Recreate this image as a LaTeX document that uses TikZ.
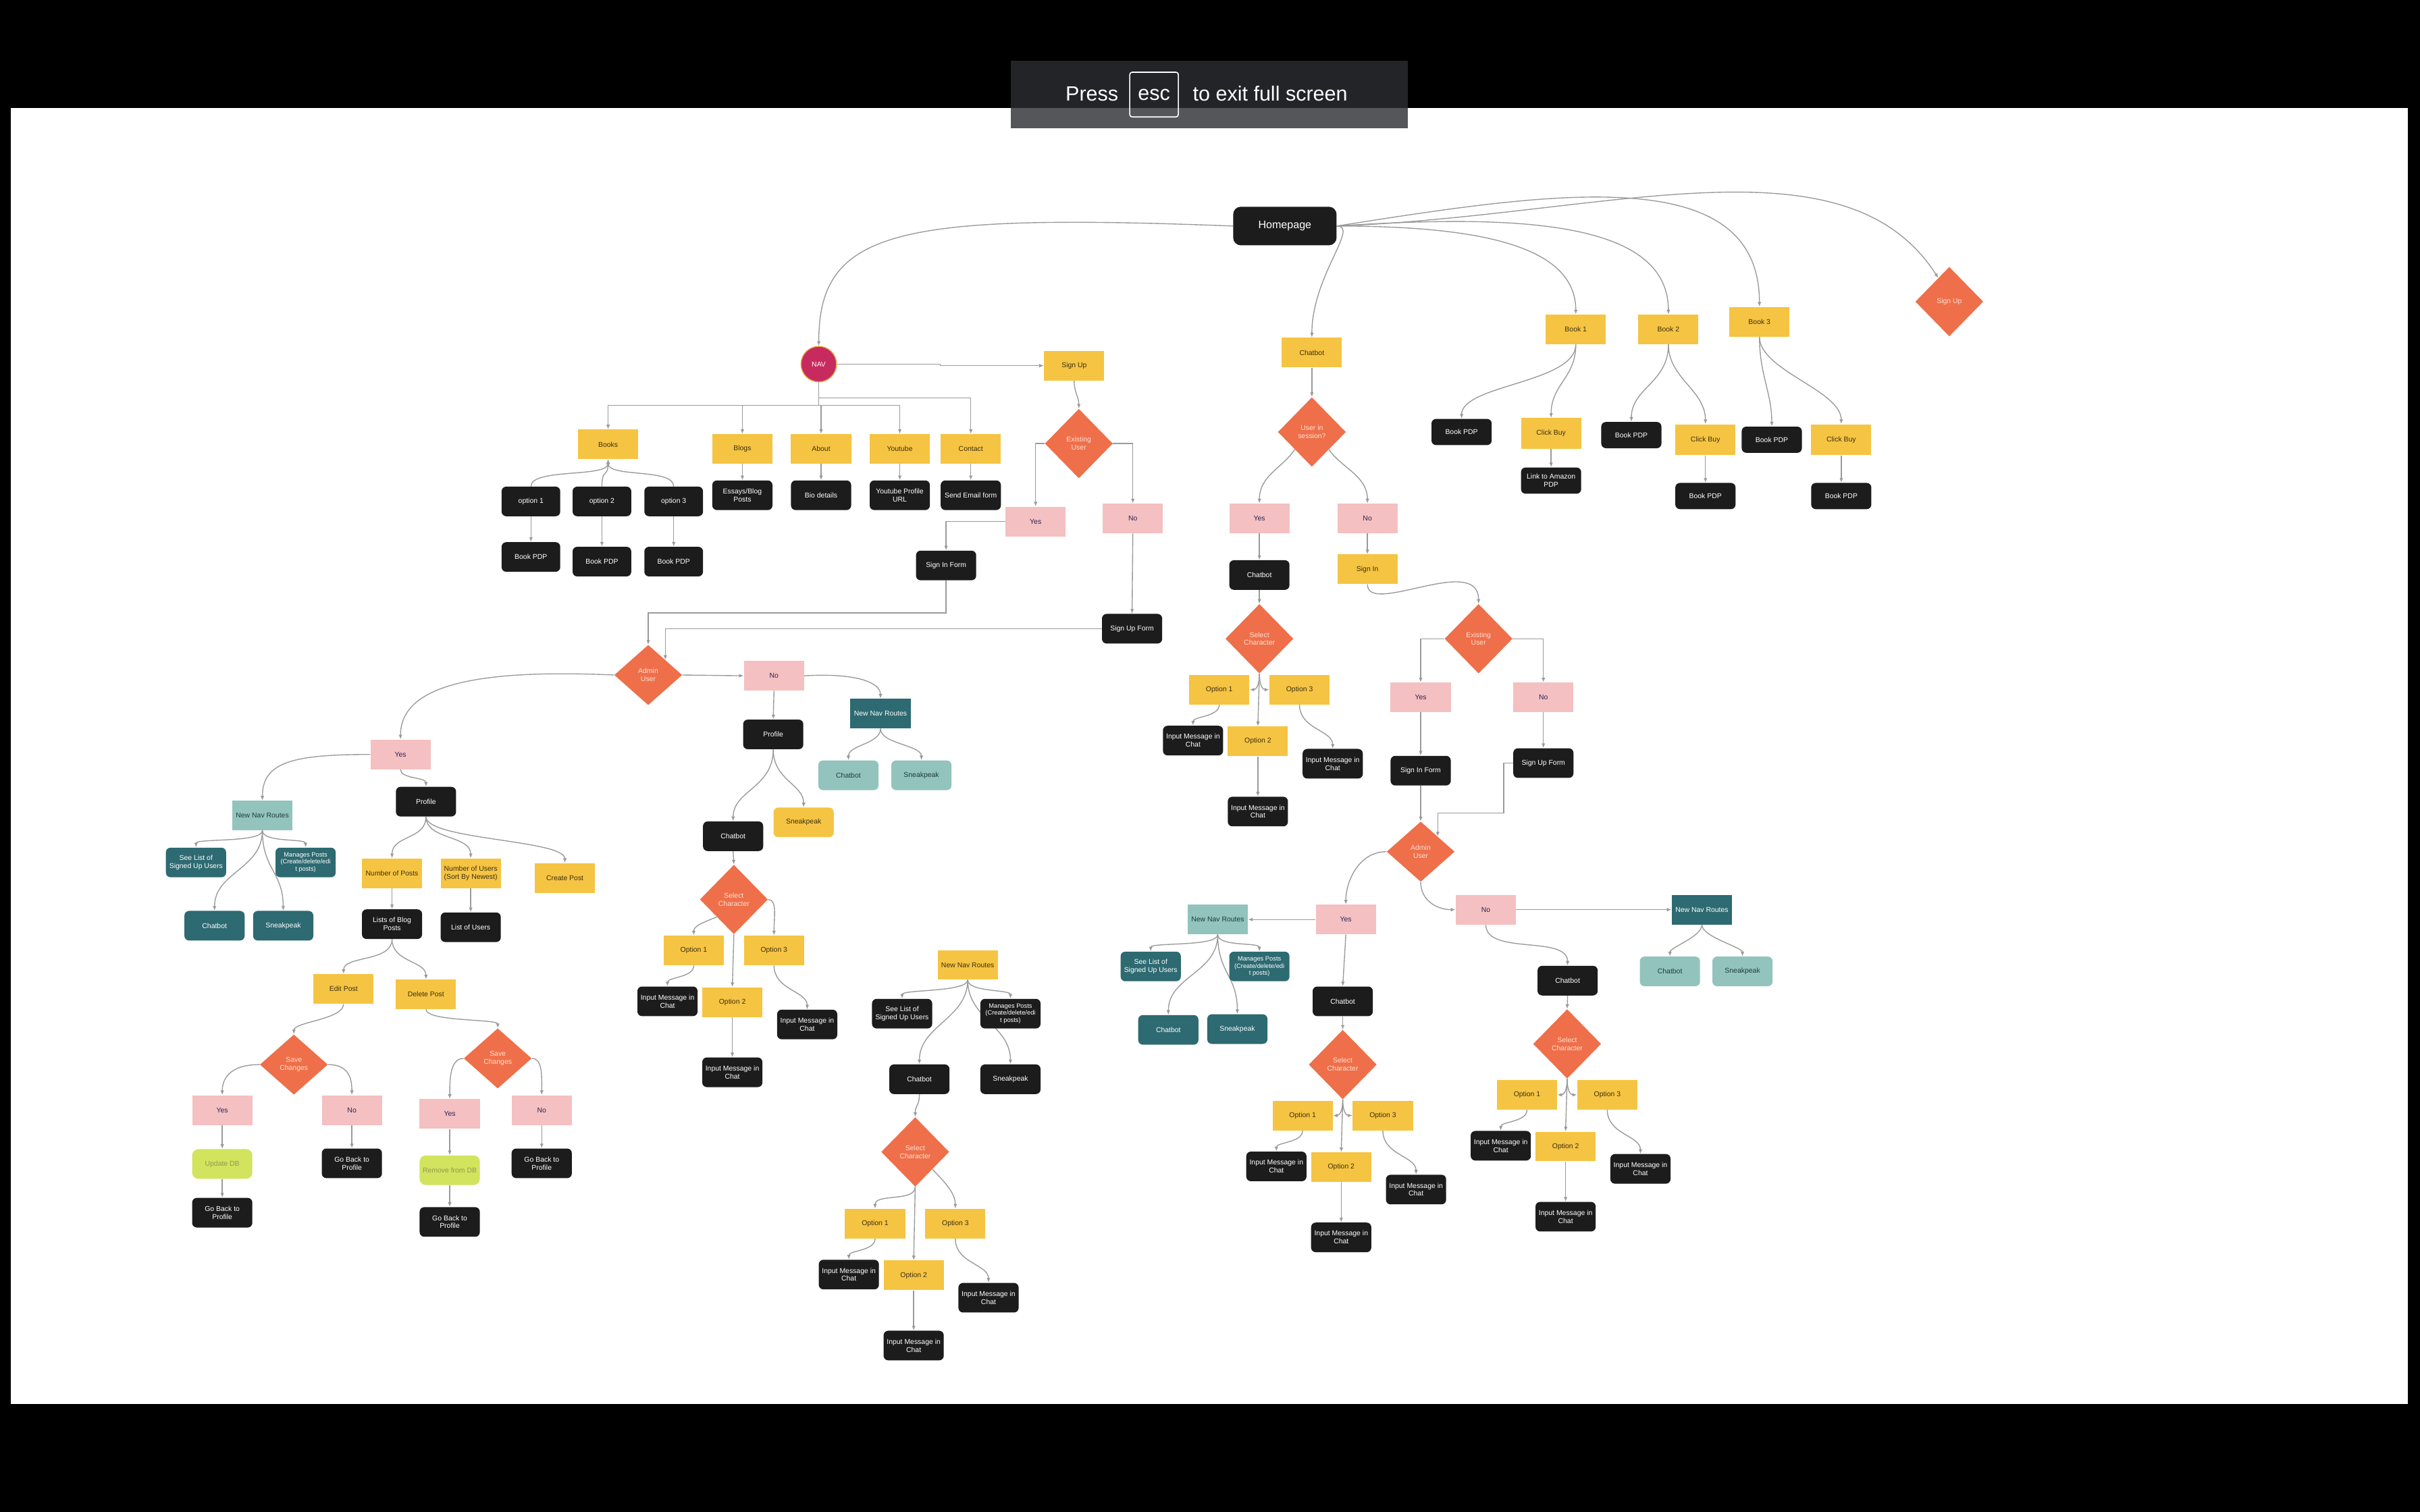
\documentclass[tikz,border=0pt]{standalone}
\usepackage{fontspec}
\setmainfont{Liberation Sans}
\usetikzlibrary{arrows.meta,shapes.geometric}

\definecolor{inkblack}{HTML}{1C1C1C}
\definecolor{sunyellow}{HTML}{F6C443}
\definecolor{sunink}{HTML}{3A3010}
\definecolor{blush}{HTML}{F4C0C1}
\definecolor{blushink}{HTML}{2B2354}
\definecolor{coral}{HTML}{EE6F49}
\definecolor{coralink}{HTML}{FCE2D6}
\definecolor{navpink}{HTML}{C72A5F}
\definecolor{navrim}{HTML}{E9A33F}
\definecolor{deepteal}{HTML}{2D6A71}
\definecolor{mint}{HTML}{92C4BD}
\definecolor{mintink}{HTML}{1E3B3B}
\definecolor{limefill}{HTML}{D2E35E}
\definecolor{limeink}{HTML}{8C9A50}
\definecolor{wire}{HTML}{9A9A9A}
\definecolor{bannertop}{HTML}{232428}
\definecolor{bannerlow}{HTML}{55565A}

\newcommand{\boxfont}{\fontsize{6.5}{7.4}\selectfont}
\newcommand{\tightfont}{\fontsize{5.8}{6.6}\selectfont}

\pgfdeclarelayer{paper}
\pgfdeclarelayer{wires}
\pgfsetlayers{paper,wires,main}

\begin{document}
\begin{tikzpicture}[
  x=0.5mm, y=-0.5mm,
  box/.style={rectangle, minimum width=19.5mm, minimum height=9.6mm, inner sep=1pt, align=center, font=\boxfont},
  darkbox/.style={box, fill=inkblack, text=white, rounded corners=1.5mm},
  yellowbox/.style={box, fill=sunyellow, text=sunink},
  pinkbox/.style={box, fill=blush, text=blushink},
  tealbox/.style={box, fill=deepteal, text=white},
  mintbox/.style={box, fill=mint, text=mintink},
  limebox/.style={box, fill=limefill, text=limeink, rounded corners=2mm},
  soft/.style={rounded corners=1.5mm},
  decision/.style={diamond, fill=coral, text=coralink, minimum width=22mm, minimum height=22.5mm, inner sep=0pt, align=center, font=\boxfont},
  lowdecision/.style={decision, minimum height=19.5mm},
  navdot/.style={circle, fill=navpink, draw=navrim, line width=0.3mm, minimum size=11.5mm, inner sep=0pt, text=white, font=\boxfont},
  banner/.style={text=white, inner sep=0pt, font=\fontsize{19}{22}\selectfont},
  arr/.style={-{Latex[length=1.5mm, width=1.2mm]}, draw=wire, line width=0.3mm}
]
\useasboundingbox (0,0) rectangle (1568,980);

% ---- Screen and full-screen banner ----
\begin{pgfonlayer}{paper}
  \fill[black] (0,0) rectangle (1568,980);
  \fill[white] (7,70) rectangle (1560,910);
  \fill[bannertop] (655,39.5) rectangle (912,70);
  \fill[bannerlow] (655,70) rectangle (912,83);
\end{pgfonlayer}
\node[banner, anchor=base] (press) at (707.5,65.6) {Press};
\node[banner, draw=white, line width=0.35mm, rounded corners=0.8mm, minimum width=15.75mm, minimum height=14.5mm] (esckey) at (747.75,61.3) {esc};
\node[banner, anchor=base] (exitmsg) at (823,65.6) {to exit full screen};

% ---- Homepage and top level ----
\node[darkbox, minimum width=33.5mm, minimum height=12.5mm, rounded corners=2.5mm, font=\fontsize{10}{12}\selectfont] (home) at (832.5,146.5) {Homepage};
\node[navdot] (nav) at (530.5,236) {NAV};
\node[yellowbox] (signup) at (696,237) {Sign Up};
\node[yellowbox] (chat) at (850,228.5) {Chatbot};
\node[yellowbox] (book1) at (1021,213.5) {Book 1};
\node[yellowbox] (book2) at (1081,213.5) {Book 2};
\node[yellowbox] (book3) at (1140,208.5) {Book 3};
\node[decision] (signupd) at (1263,195.5) {Sign Up};

% ---- Books from the homepage ----
\node[darkbox, minimum height=8.5mm] (bookpdf1) at (947,280) {Book PDP};
\node[yellowbox, minimum height=10mm] (buy1) at (1005,281) {Click Buy};
\node[darkbox, minimum height=8.5mm] (bought1) at (1005,311.5) {Link to Amazon\\PDP};
\node[darkbox, minimum height=8.5mm] (bookpdf2) at (1057,282) {Book PDP};
\node[yellowbox, minimum height=10mm] (buy2) at (1105,285) {Click Buy};
\node[darkbox, minimum height=8.5mm] (bought2) at (1105,321.5) {Book PDP};
\node[darkbox, minimum height=8.5mm] (bookpdf3) at (1148,285) {Book PDP};
\node[yellowbox, minimum height=10mm] (buy3) at (1193,285) {Click Buy};
\node[darkbox, minimum height=8.5mm] (bought3) at (1193,321.5) {Book PDP};

% ---- NAV branches ----
\node[yellowbox] (books) at (394,288) {Books};
\node[yellowbox] (blogs) at (481,291) {Blogs};
\node[yellowbox] (about) at (532,291) {About};
\node[yellowbox] (youtube) at (583,291) {Youtube};
\node[yellowbox] (contact) at (629,291) {Contact};
\node[darkbox, minimum width=19mm] (opt1) at (344,325) {option 1};
\node[darkbox, minimum width=19mm] (opt2) at (390,325) {option 2};
\node[darkbox, minimum width=19mm] (opt3) at (436.5,325) {option 3};
\node[darkbox, minimum width=19mm] (optpdf1) at (344,361) {Book PDP};
\node[darkbox, minimum width=19mm] (optpdf2) at (390,364) {Book PDP};
\node[darkbox, minimum width=19mm] (optpdf3) at (436.5,364) {Book PDP};
\node[darkbox] (essays) at (481,321) {Essays/Blog\\Posts};
\node[darkbox] (bio) at (532,321) {Bio details};
\node[darkbox] (ytlink) at (583,321) {Youtube Profile\\URL};
\node[darkbox] (email) at (629,321) {Send Email form};

% ---- Sign up flow ----
\node[decision] (exist) at (699,287.5) {Existing\\User};
\node[pinkbox] (yes1) at (671,338) {Yes};
\node[pinkbox] (no1) at (734,336) {No};
\node[darkbox] (signinf) at (613,366.5) {Sign In Form};
\node[darkbox] (signupf) at (733.5,407.5) {Sign Up Form};

% ---- Admin check ----
\node[lowdecision] (admin) at (420,437.5) {Admin\\User};
\node[pinkbox] (ayes) at (259.5,489) {Yes};
\node[pinkbox] (ano) at (501.5,438) {No};
\node[tealbox] (anav) at (570.5,462.5) {New Nav Routes};
\node[mintbox, soft] (anavchat) at (549.7,502.5) {Chatbot};
\node[mintbox, soft] (anavpeek) at (597,502.5) {Sneakpeak};
\node[darkbox] (aprof) at (501,476) {Profile};
\node[darkbox] (aprofchat) at (475,542) {Chatbot};
\node[yellowbox, soft] (aprofpeek) at (520.7,533) {Sneakpeak};

% ---- Admin dashboard ----
\node[mintbox] (ynav) at (170,528.6) {New Nav Routes};
\node[darkbox] (yprof) at (276,519.6) {Profile};
\node[tealbox, soft] (ysee) at (127,559) {See List of\\Signed Up Users};
\node[tealbox, soft, font=\tightfont] (yman) at (198,559) {Manages Posts\\(Create/delete/edi\\t posts)};
\node[tealbox, soft] (ychat) at (139,600) {Chatbot};
\node[tealbox, soft] (ypeek) at (183.5,600) {Sneakpeak};
\node[yellowbox] (nposts) at (254,566) {Number of Posts};
\node[yellowbox] (nusers) at (305,566) {Number of Users\\(Sort By Newest)};
\node[yellowbox] (cpost) at (366,569) {Create Post};
\node[darkbox] (lposts) at (254,599) {Lists of Blog\\Posts};
\node[darkbox] (lusers) at (305,601) {List of Users};
\node[yellowbox] (edit) at (222.6,641) {Edit Post};
\node[yellowbox] (delete) at (276,644.5) {Delete Post};
\node[lowdecision] (savel) at (190.4,690) {Save\\Changes};
\node[lowdecision] (saver) at (322.5,686) {Save\\Changes};
\node[pinkbox] (slyes) at (144,719.5) {Yes};
\node[pinkbox] (slno) at (228,719.5) {No};
\node[pinkbox] (sryes) at (291.4,722) {Yes};
\node[pinkbox] (srno) at (351,719.5) {No};
\node[limebox] (updb) at (144,754.4) {Update DB};
\node[darkbox] (updback) at (144,786) {Go Back to\\Profile};
\node[darkbox] (slback) at (228,754) {Go Back to\\Profile};
\node[limebox] (remdb) at (291.4,758.5) {Remove from DB};
\node[darkbox] (remback) at (291.4,792) {Go Back to\\Profile};
\node[darkbox] (srback) at (351,754) {Go Back to\\Profile};

% ---- Bottom nav routes ----
\node[yellowbox, minimum height=9.5mm] (bnav) at (627,625.5) {New Nav Routes};
\node[darkbox] (bsee) at (584.5,657) {See List of\\Signed Up Users};
\node[darkbox, font=\tightfont] (bman) at (654.7,657) {Manages Posts\\(Create/delete/edi\\t posts)};
\node[darkbox] (bchat) at (595.7,699.5) {Chatbot};
\node[darkbox] (bpeek) at (654.7,699.5) {Sneakpeak};

% ---- Chatbot route ----
\node[decision] (session) at (850,280) {User in\\session?};
\node[pinkbox] (cyes) at (816,336) {Yes};
\node[pinkbox] (cno) at (886,336) {No};
\node[darkbox] (cbot) at (816,372.7) {Chatbot};
\node[yellowbox] (csignin) at (886,369) {Sign In};
\node[decision] (cexist) at (958,414) {Existing\\User};
\node[pinkbox] (ceyes) at (920.5,452) {Yes};
\node[pinkbox] (ceno) at (1000,452) {No};
\node[darkbox] (csif) at (920.5,499.5) {Sign In Form};
\node[darkbox] (csuf) at (1000,494.6) {Sign Up Form};
\node[lowdecision] (cadmin) at (920.5,552) {Admin\\User};
\node[pinkbox] (cayes) at (872,596) {Yes};
\node[pinkbox] (cano) at (962.7,589.6) {No};
\node[mintbox] (canavl) at (789,596) {New Nav Routes};
\node[tealbox] (canavd) at (1102.7,589.6) {New Nav Routes};
\node[tealbox, soft] (csee) at (745.6,626.4) {See List of\\Signed Up Users};
\node[tealbox, soft, font=\tightfont] (cman) at (816,626.4) {Manages Posts\\(Create/delete/edi\\t posts)};
\node[tealbox, soft] (cchat) at (757,667.5) {Chatbot};
\node[tealbox, soft] (cpeek) at (801.7,667) {Sneakpeak};
\node[mintbox, soft] (cmchat) at (1082,629.6) {Chatbot};
\node[mintbox, soft] (cmpeek) at (1129,629.6) {Sneakpeak};
\node[darkbox] (cybot) at (870,649) {Chatbot};
\node[darkbox] (cnbot) at (1015.7,635.6) {Chatbot};

% ---- Character selection groups ----
\foreach \g/\sx/\sy/\d in {1/475.5/583/0, 2/816/414/0, 3/593/746.6/13.5, 4/870/690/0, 5/1015.4/676.6/0} {
  \node[decision] (sel\g) at (\sx,\sy) {Select\\Character};
  \node[yellowbox] (opa\g) at ({\sx-26},{\sy+33+\d}) {Option 1};
  \node[yellowbox] (opc\g) at ({\sx+26},{\sy+33+\d}) {Option 3};
  \node[yellowbox] (opb\g) at ({\sx-1},{\sy+66.5+\d}) {Option 2};
  \node[darkbox] (ina\g) at ({\sx-43},{\sy+66+\d}) {Input Message in\\Chat};
  \node[darkbox] (inc\g) at ({\sx+47.5},{\sy+81+\d}) {Input Message in\\Chat};
  \node[darkbox] (inb\g) at ({\sx-1},{\sy+112+\d}) {Input Message in\\Chat};
}

% ---- Connectors ----
\begin{pgfonlayer}{wires}
% homepage fan-out
\draw[arr] (home.west) .. controls +(-219,-8.5) and +(0,-75) .. (nav.north);
\draw[arr] (home.east) .. controls +(15,0) and +(0,-40) .. (chat.north);
\draw[arr] (home.east) .. controls +(94,0) and +(0,-44) .. (book1.north);
\draw[arr] (home.east) .. controls +(120,-8) and +(0,-60) .. (book2.north);
\draw[arr] (home.east) .. controls +(140,-22) and +(0,-95) .. (book3.north);
\draw[arr] (home.east) .. controls +(174,-6.5) and +(-61,-95) .. (signupd.115);
\foreach \b in {1,2,3} {
  \draw[arr] (book\b.south) .. controls +(0,25) and +(0,-22) .. (bookpdf\b.north);
  \draw[arr] (book\b.south) .. controls +(0,22) and +(0,-22) .. (buy\b.north);
  \draw[arr] (buy\b.south) -- (bought\b.north);
}

% nav menu
\draw[arr] (nav.east) -- ++(67,0) |- (signup.west);
\foreach \n in {books,blogs,about,youtube}
  {\draw[arr] (nav.south) -- ++(0,15) -| (\n.north);}
\draw[arr] (nav.south) -- ++(0,10) -| (contact.north);
\foreach \n in {opt1,opt2,opt3}
  {\draw[arr] (\n.north) .. controls +(0,-12) and +(0,12) .. (books.south);}
\foreach \a/\b in {opt1/optpdf1,opt2/optpdf2,opt3/optpdf3,blogs/essays,about/bio,youtube/ytlink,contact/email}
  {\draw[arr] (\a.south) -- (\b.north);}

% sign up and admin check
\draw[arr] (signup.south) .. controls +(0,8) and +(0,-8) .. (exist.north);
\draw[arr] (exist.west) -| (yes1.north);
\draw[arr] (exist.east) -| (no1.north);
\draw[arr] (yes1.west) -| (signinf.north);
\draw[arr] (no1.south) -- (signupf.north);
\draw[arr] (signinf.south) -- ++(0,21) -| (admin.north);
\draw[arr] (signupf.west) -| (admin.north east);
\draw[arr] (admin.west) .. controls +(-90,-4) and +(0,-35) .. (ayes.north);
\draw[arr] (admin.east) -- (ano.west);
\draw[arr] (ano.east) .. controls +(35,-2) and +(0,-10) .. (anav.north);
\foreach \n in {anavchat,anavpeek}
  {\draw[arr] (anav.south) .. controls +(0,10) and +(0,-10) .. (\n.north);}
\draw[arr] (aprof.south) .. controls +(0,25) and +(0,-20) .. (aprofchat.north);
\draw[arr] (aprof.south) .. controls +(0,20) and +(0,-15) .. (aprofpeek.north);

% admin dashboard
\draw[arr] (ayes.west) .. controls +(-50,0) and +(0,-25) .. (ynav.north);
\draw[arr] (ayes.south) .. controls +(0,6) and +(0,-6) .. (yprof.north);
\foreach \n in {nposts,nusers,cpost}
  {\draw[arr] (yprof.south) .. controls +(0,15) and +(0,-15) .. (\n.north);}
\foreach \n in {edit,delete}
  {\draw[arr] (lposts.south) .. controls +(0,15) and +(0,-12) .. (\n.north);}
\draw[arr] (edit.south) .. controls +(0,10) and +(0,-8) .. (savel.north);
\draw[arr] (delete.south) .. controls +(0,8) and +(0,-6) .. (saver.north);
\draw[arr] (savel.west) .. controls +(-20,0) and +(0,-10) .. (slyes.north);
\draw[arr] (savel.east) .. controls +(14,0) and +(0,-10) .. (slno.north);
\draw[arr] (saver.west) .. controls +(-9,0) and +(0,-12) .. (sryes.north);
\draw[arr] (saver.east) .. controls +(7,0) and +(0,-12) .. (srno.north);

% nav route fans
\foreach \p/\n in {ynav/ysee,ynav/yman,bnav/bsee,bnav/bman,canavl/csee,canavl/cman,canavd/cmchat,canavd/cmpeek}
  {\draw[arr] (\p.south) .. controls +(0,8) and +(0,-6) .. (\n.north);}
\foreach \p/\n in {ynav/ychat,ynav/ypeek,bnav/bchat,bnav/bpeek,canavl/cchat,canavl/cpeek}
  {\draw[arr] (\p.south) .. controls +(0,25) and +(0,-25) .. (\n.north);}

% chatbot route
\draw[arr] (chat.south) -- (session.north);
\draw[arr] (session.south west) .. controls +(-8,12) and +(0,-18) .. (cyes.north);
\draw[arr] (session.south east) .. controls +(8,12) and +(0,-18) .. (cno.north);
\draw[arr] (csignin.south) .. controls +(0,21) and +(0,-33) .. (cexist.north);
\draw[arr] (cexist.west) -| (ceyes.north);
\draw[arr] (cexist.east) -| (ceno.north);
\draw[arr] (csuf.west) -- ++(-6,0) -- ++(0,32.5) -| (cadmin.north east);
\draw[arr] (cadmin.west) .. controls +(-18,0) and +(0,-15) .. (cayes.north);
\draw[arr] (cadmin.south) .. controls +(0,12) and +(-12,0) .. (cano.west);
\draw[arr] (cayes.west) -- (canavl.east);
\draw[arr] (cano.east) -- (canavd.west);
\draw[arr] (cano.south) .. controls +(0,20) and +(0,-20) .. (cnbot.north);
\draw[arr] (bchat.south) .. controls +(0,8) and +(0,-8) .. (sel3.north);
\foreach \a/\b in {cyes/cbot,cbot/sel2,cno/csignin,ceyes/csif,ceno/csuf,csif/cadmin,cayes/cybot,cybot/sel4,cnbot/sel5,ano/aprof,aprofchat/sel1,nposts/lposts,nusers/lusers,slyes/updb,updb/updback,slno/slback,sryes/remdb,remdb/remback,srno/srback}
  {\draw[arr] (\a.south) -- (\b.north);}

% character selection
\foreach \g in {1,2,3,4,5} {
  \draw[arr] (sel\g.south) -- (opb\g.north);
  \draw[arr] (opa\g.south) .. controls +(0,8) and +(0,-6) .. (ina\g.north);
  \draw[arr] (opc\g.south) .. controls +(0,16) and +(0,-12) .. (inc\g.north);
  \draw[arr] (opb\g.south) -- (inb\g.north);
}
\foreach \g in {2,4,5} {
  \draw[arr] (sel\g.south) .. controls +(0,8) and +(4,0) .. (opa\g.east);
  \draw[arr] (sel\g.south) .. controls +(0,8) and +(-4,0) .. (opc\g.west);
}
\draw[arr] (sel1.south west) .. controls +(-10,4) and +(0,-6) .. (opa1.north);
\draw[arr] (sel1.east) .. controls +(6,0) and +(0,-12) .. (opc1.north);
\draw[arr] (sel3.south) .. controls +(0,10) and +(0,-10) .. (opa3.north);
\draw[arr] (sel3.south east) .. controls +(8,8) and +(0,-10) .. (opc3.north);
\end{pgfonlayer}

\end{tikzpicture}
\end{document}
